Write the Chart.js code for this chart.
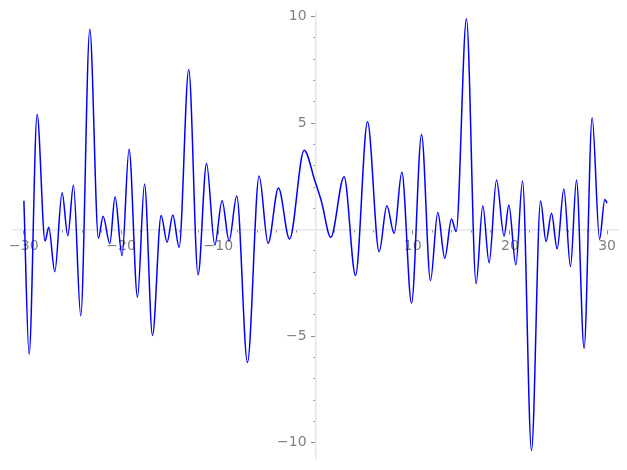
<!DOCTYPE html>
<html>
<head>
<meta charset="utf-8">
<script src="https://cdn.jsdelivr.net/npm/chart.js@4"></script>
<style>
  body { margin: 0; background: #fff; }
  #wrap { width: 627px; height: 470px; }
</style>
</head>
<body>
<div id="wrap"><canvas id="plot"></canvas></div>
<script>
// curve: extrema (and a few in-between points)
const xValues = [
  -30, -29.46, -28.64, -27.82, -27.44, -26.82, -26.07, -25.48, -24.9, -24.15,
  -23.22, -22.33, -21.85, -21.16, -20.62, -19.9, -19.18, -18.31, -17.59, -16.77,
  -15.88, -15.27, -14.68, -14.03, -13.04, -12.08, -11.21, -10.36, -9.61, -8.89,
  -8.1, -7.0, -5.8, -4.88, -3.81, -2.67, -1.17, -0.07, 0.62, 1.57,
  2.94, 4.12, 5.35, 6.55, 7.34, 8.09, 8.88, 9.88, 10.91, 11.83,
  12.58, 13.3, 13.99, 14.47, 15.53, 16.52, 17.21, 17.86, 18.62, 19.4,
  19.89, 20.61, 21.3, 22.22, 23.15, 23.72, 24.28, 24.86, 25.55, 26.23,
  26.85, 27.63, 28.46, 29.22, 29.76, 30
];
const yValues = [
  1.36, -5.84, 5.4, -0.53, 0.11, -1.97, 1.73, -0.28, 2.08, -4.04,
  9.4, -0.4, 0.63, -0.66, 1.55, -1.22, 3.77, -3.17, 2.14, -4.96,
  0.66, -0.59, 0.69, -0.82, 7.51, -2.12, 3.11, -0.72, 1.36, -0.53,
  1.58, -6.23, 2.52, -0.64, 1.95, -0.44, 3.73, 2.3, 1.31, -0.36,
  2.48, -2.15, 5.06, -1.03, 1.12, -0.17, 2.69, -3.45, 4.47, -2.39,
  0.81, -1.34, 0.5, -0.09, 9.9, -2.53, 1.12, -1.55, 2.33, -0.3,
  1.16, -1.65, 2.28, -10.37, 1.34, -0.56, 0.77, -0.9, 1.91, -1.73,
  2.33, -5.56, 5.25, -0.45, 1.42, 1.25
];

const xMajorTicks = [-30, -20, -10, 0, 10, 20, 30];
const xTickLabels = ['\u221230', '\u221220', '\u221210', '', '10', '20', '30'];
const xMinorTicks = [-30, -28, -26, -24, -22, -20, -18, -16, -14, -12, -10, -8, -6, -4, -2, 0,
  2, 4, 6, 8, 10, 12, 14, 16, 18, 20, 22, 24, 26, 28, 30];
const yMajorTicks = [-10, -5, 0, 5, 10];
const yTickLabels = ['\u221210', '\u22125', '', '5', '10'];
const yMinorTicks = [-10, -9, -8, -7, -6, -5, -4, -3, -2, -1, 0, 1, 2, 3, 4, 5, 6, 7, 8, 9, 10];

const points = xValues.map((x, i) => ({ x: x, y: yValues[i] }));

const tickFont = { family: 'DejaVu Sans', size: 14 };
const spine = { display: true, color: '#e6e6e6', width: 1.5 };

function fixedTicks(values) {
  return scale => { scale.ticks = values.map(v => ({ value: v })); };
}

new Chart(document.getElementById('plot'), {
  type: 'line',
  data: {
    datasets: [{
      data: points,
      borderColor: '#0000ff',
      borderWidth: 1.5,
      pointRadius: 0,
      fill: false,
      cubicInterpolationMode: 'monotone'
    }]
  },
  options: {
    responsive: true,
    maintainAspectRatio: false,
    animation: false,
    layout: { padding: { left: 12.7, right: 8.7, top: 11, bottom: 11 } },
    plugins: { legend: { display: false }, tooltip: { enabled: false } },
    scales: {
      x: {
        type: 'linear', min: -31.15, max: 31.15, position: { y: 0 },
        afterBuildTicks: fixedTicks(xMajorTicks),
        border: spine,
        grid: { drawOnChartArea: false, tickLength: 4, tickColor: '#888' },
        ticks: {
          autoSkip: false, maxRotation: 0, padding: 4, color: '#808080', font: tickFont,
          callback: (v, i) => xTickLabels[i]
        }
      },
      xMinor: {
        type: 'linear', axis: 'x', min: -31.15, max: 31.15, position: { y: 0 },
        afterBuildTicks: fixedTicks(xMinorTicks),
        border: { display: false },
        grid: { drawOnChartArea: false, tickLength: 2.5, tickColor: '#888' },
        ticks: { autoSkip: false, maxRotation: 0, callback: () => '' }
      },
      y: {
        type: 'linear', min: -10.74, max: 10.24, position: { x: 0 },
        afterBuildTicks: fixedTicks(yMajorTicks),
        border: spine,
        grid: { drawOnChartArea: false, tickLength: 4, tickColor: '#888' },
        ticks: {
          autoSkip: false, color: '#808080', font: tickFont,
          // labels sit right on the spine when the axis is placed by value,
          // so a figure space pushes them clear of the tick marks
          callback: (v, i) => yTickLabels[i] + '\u2007'
        }
      },
      yMinor: {
        type: 'linear', axis: 'y', min: -10.74, max: 10.24, position: { x: 0 },
        afterBuildTicks: fixedTicks(yMinorTicks),
        border: { display: false },
        grid: { drawOnChartArea: false, tickLength: 2.5, tickColor: '#888' },
        ticks: { autoSkip: false, callback: () => '' }
      }
    }
  }
});
</script>
</body>
</html>
